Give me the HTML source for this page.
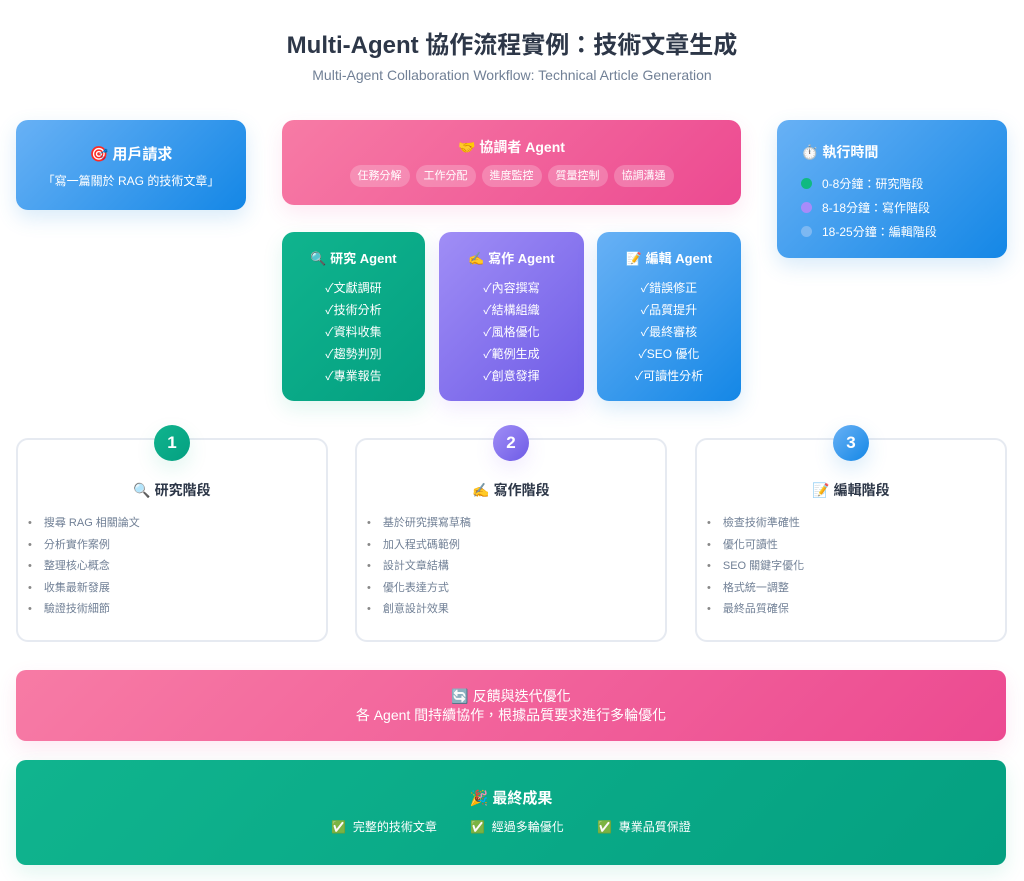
<!DOCTYPE html>
<html><head><meta charset="utf-8"><style>
*{margin:0;padding:0;box-sizing:border-box}
body{width:1024px;height:881px;background:#fff;font-family:"Liberation Sans","Noto Sans CJK TC",sans-serif;position:relative;overflow:hidden;color:#fff}
.a{position:absolute}
.c{text-align:center}
.blue{background:linear-gradient(135deg,#68b1f5,#1487e6);box-shadow:0 8px 20px rgba(66,153,225,.2)}
.pink{background:linear-gradient(135deg,#f77ba5,#ec4a91);box-shadow:0 8px 20px rgba(236,72,153,.12)}
.green{background:linear-gradient(135deg,#10b48e,#04a081);box-shadow:0 8px 20px rgba(16,185,129,.12)}
.purple{background:linear-gradient(135deg,#a08ef6,#6e5be6);box-shadow:0 8px 20px rgba(139,92,246,.12)}
.r{border-radius:12px}
.tag{display:inline-block;background:rgba(255,255,255,.22);border-radius:11px;padding:0 8px;height:22px;line-height:22px;font-size:11px;margin:0 3px}
.ag{font-size:12px;line-height:22px}
.ag b{display:block;font-size:13px;margin-bottom:7px;font-weight:bold}
.ph{border:2px solid #e6eaf1;border-radius:12px;background:#fff;color:#2d3748}
.num{width:36px;height:36px;border-radius:50%;line-height:36px;font-size:17px;font-weight:bold;color:#fff;text-align:center}
.ph h3{font-size:14px;text-align:center;margin-top:40px;font-weight:bold}
.ph ul{list-style:none;margin:13px 0 0 10px;font-size:11px;color:#718096;line-height:21.5px}
.ph li:before{content:"•";margin-right:12px;color:#888}
.dot{display:inline-block;width:11px;height:11px;border-radius:50%;margin-right:10px;vertical-align:-1px}
</style></head><body>
<div class="a c" style="left:0;width:1024px;top:25px;font-size:24px;font-weight:bold;color:#2d3748">Multi-Agent 協作流程實例：技術文章生成</div>
<div class="a c" style="left:0;width:1024px;top:67px;font-size:14px;color:#718096">Multi-Agent Collaboration Workflow: Technical Article Generation</div>

<div class="a blue r c" style="left:16px;top:120px;width:230px;height:90px">
<div style="margin-top:23px;font-size:15px;font-weight:bold">🎯 用戶請求</div>
<div style="margin-top:8px;font-size:12px">「寫一篇關於 RAG 的技術文章」</div></div>

<div class="a pink r c" style="left:282px;top:120px;width:459px;height:85px">
<div style="margin-top:17px;font-size:14px;font-weight:bold">🤝 協調者 Agent</div>
<div style="margin-top:8px"><span class="tag">任務分解</span><span class="tag">工作分配</span><span class="tag">進度監控</span><span class="tag">質量控制</span><span class="tag">協調溝通</span></div></div>

<div class="a blue r" style="left:777px;top:120px;width:230px;height:138px;padding:22px 0 0 24px">
<div style="font-size:14px;font-weight:bold;margin-bottom:10px">⏱️ 執行時間</div>
<div style="font-size:12px;line-height:24px">
<div><span class="dot" style="background:#10b981"></span>0-8分鐘：研究階段</div>
<div><span class="dot" style="background:#a78bfa"></span>8-18分鐘：寫作階段</div>
<div><span class="dot" style="background:#7db8f2"></span>18-25分鐘：編輯階段</div></div></div>

<div class="a green r c ag" style="left:282px;top:232px;width:143px;height:169px;padding-top:16px"><b>🔍 研究 Agent</b>✓文獻調研<br>✓技術分析<br>✓資料收集<br>✓趨勢判別<br>✓專業報告</div>
<div class="a purple r c ag" style="left:439px;top:232px;width:145px;height:169px;padding-top:16px"><b>✍️ 寫作 Agent</b>✓內容撰寫<br>✓結構組織<br>✓風格優化<br>✓範例生成<br>✓創意發揮</div>
<div class="a blue r c ag" style="left:597px;top:232px;width:144px;height:169px;padding-top:16px"><b>📝 編輯 Agent</b>✓錯誤修正<br>✓品質提升<br>✓最終審核<br>✓SEO 優化<br>✓可讀性分析</div>

<div class="a ph" style="left:16px;top:438px;width:312px;height:204px"><h3>🔍 研究階段</h3><ul><li>搜尋 RAG 相關論文</li><li>分析實作案例</li><li>整理核心概念</li><li>收集最新發展</li><li>驗證技術細節</li></ul></div>
<div class="a ph" style="left:355px;top:438px;width:312px;height:204px"><h3>✍️ 寫作階段</h3><ul><li>基於研究撰寫草稿</li><li>加入程式碼範例</li><li>設計文章結構</li><li>優化表達方式</li><li>創意設計效果</li></ul></div>
<div class="a ph" style="left:695px;top:438px;width:312px;height:204px"><h3>📝 編輯階段</h3><ul><li>檢查技術準確性</li><li>優化可讀性</li><li>SEO 關鍵字優化</li><li>格式統一調整</li><li>最終品質確保</li></ul></div>
<div class="a num green" style="left:154px;top:425px">1</div>
<div class="a num purple" style="left:493px;top:425px">2</div>
<div class="a num blue" style="left:833px;top:425px">3</div>

<div class="a pink c" style="left:16px;top:670px;width:990px;height:71px;border-radius:10px;padding-top:17px;font-size:14px;line-height:19px">🔄 反饋與迭代優化<br>各 Agent 間持續協作，根據品質要求進行多輪優化</div>

<div class="a green c" style="left:16px;top:760px;width:990px;height:105px;border-radius:10px;padding-top:27px">
<div style="font-size:15px;font-weight:bold">🎉 最終成果</div>
<div style="margin-top:10px;font-size:12px">✅ &nbsp;完整的技術文章 &nbsp;&nbsp;&nbsp;&nbsp;&nbsp;&nbsp;&nbsp;&nbsp; ✅ &nbsp;經過多輪優化 &nbsp;&nbsp;&nbsp;&nbsp;&nbsp;&nbsp;&nbsp;&nbsp; ✅ &nbsp;專業品質保證</div></div>
</body></html>
